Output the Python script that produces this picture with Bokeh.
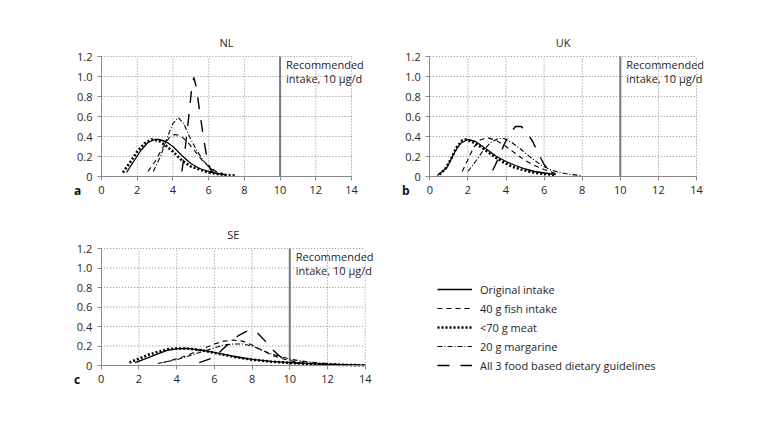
from bokeh.plotting import figure
from bokeh.models import Range1d, FixedTicker, Label, Legend, LegendItem, LinearAxis
from bokeh.layouts import column, row
from bokeh.embed import file_html
from bokeh.resources import INLINE

# ---------------- data ----------------
x_ticks = [0, 2, 4, 6, 8, 10, 12, 14]
y_ticks = [0, 0.2, 0.4, 0.6, 0.8, 1.0, 1.2]
y_tick_labels = ["0", "0.2", "0.4", "0.6", "0.8", "1.0", "1.2"]
recommended = 10
series_names = ["Original intake", "40 g fish intake", "<70 g meat",
                "20 g margarine", "All 3 food based dietary guidelines"]

nl_orig_x = [1.4, 1.8, 2.2, 2.6, 3.0, 3.2, 3.6, 4.0, 4.5, 5.0, 5.5, 6.0, 6.5, 7.0]
nl_orig_y = [0.04, 0.15, 0.26, 0.34, 0.37, 0.37, 0.35, 0.30, 0.21, 0.13, 0.08, 0.05, 0.03, 0.015]
nl_fish_x = [2.6, 3.0, 3.4, 3.8, 4.1, 4.4, 4.8, 5.2, 5.6, 6.0, 6.4, 6.8]
nl_fish_y = [0.05, 0.15, 0.28, 0.39, 0.42, 0.41, 0.35, 0.26, 0.17, 0.10, 0.05, 0.03]
nl_meat_x = [1.2, 1.6, 2.0, 2.4, 2.8, 3.2, 3.6, 4.0, 4.5, 5.0, 5.5, 6.0, 6.5, 7.0, 7.5]
nl_meat_y = [0.04, 0.14, 0.25, 0.33, 0.37, 0.36, 0.31, 0.25, 0.16, 0.10, 0.07, 0.04, 0.025, 0.015, 0.01]
nl_marg_x = [2.9, 3.3, 3.7, 4.0, 4.3, 4.6, 4.9, 5.3, 5.7, 6.1, 6.5]
nl_marg_y = [0.05, 0.20, 0.40, 0.53, 0.59, 0.53, 0.41, 0.27, 0.16, 0.08, 0.04]
nl_all_x = [4.5, 4.7, 4.9, 5.05, 5.17, 5.3, 5.5, 5.7, 5.9, 6.1, 6.3]
nl_all_y = [0.05, 0.30, 0.62, 0.88, 0.99, 0.90, 0.65, 0.40, 0.19, 0.07, 0.03]

uk_orig_x = [0.4, 0.9, 1.3, 1.6, 2.0, 2.4, 3.0, 3.5, 4.0, 4.5, 5.0, 5.5, 6.0, 6.6]
uk_orig_y = [0.01, 0.09, 0.24, 0.33, 0.37, 0.35, 0.27, 0.20, 0.15, 0.11, 0.075, 0.05, 0.035, 0.02]
uk_fish_x = [1.7, 2.0, 2.3, 2.6, 3.0, 3.5, 4.0, 4.5, 5.0, 5.5, 6.0, 6.6]
uk_fish_y = [0.05, 0.17, 0.29, 0.36, 0.39, 0.36, 0.30, 0.23, 0.16, 0.11, 0.07, 0.03]
uk_meat_x = [0.5, 0.8, 1.1, 1.4, 1.7, 1.9, 2.3, 2.8, 3.3, 3.8, 4.3, 4.8, 5.3, 5.8, 6.3, 6.6]
uk_meat_y = [0.02, 0.07, 0.17, 0.29, 0.36, 0.37, 0.34, 0.28, 0.21, 0.15, 0.10, 0.07, 0.045, 0.03, 0.02, 0.015]
uk_marg_x = [2.0, 2.4, 2.8, 3.2, 3.6, 3.9, 4.3, 4.8, 5.3, 5.8, 6.3, 6.8, 7.4, 8.0]
uk_marg_y = [0.05, 0.15, 0.26, 0.34, 0.38, 0.38, 0.34, 0.27, 0.19, 0.12, 0.07, 0.04, 0.02, 0.01]
uk_all_x = [3.3, 3.6, 3.9, 4.2, 4.5, 4.8, 5.1, 5.4, 5.7, 6.0, 6.3, 6.6]
uk_all_y = [0.06, 0.18, 0.32, 0.43, 0.50, 0.50, 0.44, 0.35, 0.23, 0.12, 0.05, 0.02]

se_orig_x = [1.8, 2.5, 3.0, 3.5, 4.0, 4.5, 5.0, 5.5, 6.0, 6.5, 7.0, 7.5, 8.0, 9.0, 10.0, 11.0, 12.0, 13.0, 14.0]
se_orig_y = [0.03, 0.08, 0.12, 0.155, 0.17, 0.175, 0.165, 0.15, 0.135, 0.115, 0.095, 0.077, 0.062, 0.042, 0.03, 0.02, 0.012, 0.007, 0.003]
se_fish_x = [3.3, 4.0, 4.5, 5.0, 5.5, 6.0, 6.5, 7.0, 7.5, 8.0, 8.5, 9.0, 9.5, 10.0, 11.0, 12.0, 13.0, 14.0]
se_fish_y = [0.03, 0.07, 0.10, 0.14, 0.18, 0.22, 0.25, 0.26, 0.25, 0.21, 0.16, 0.11, 0.075, 0.05, 0.025, 0.013, 0.007, 0.003]
se_meat_x = [1.5, 2.0, 2.5, 3.0, 3.5, 4.0, 4.5, 5.0, 5.5, 6.0, 6.5, 7.0, 7.5, 8.0, 9.0, 10.0, 11.0, 12.0, 13.0, 14.0]
se_meat_y = [0.03, 0.07, 0.11, 0.14, 0.165, 0.175, 0.175, 0.165, 0.15, 0.13, 0.11, 0.09, 0.075, 0.06, 0.04, 0.027, 0.017, 0.01, 0.005, 0.002]
se_marg_x = [3.0, 4.0, 5.0, 6.0, 6.5, 7.0, 7.5, 8.0, 8.5, 9.0, 10.0, 11.0, 12.0, 13.0, 14.0]
se_marg_y = [0.02, 0.06, 0.12, 0.18, 0.21, 0.22, 0.22, 0.20, 0.16, 0.12, 0.065, 0.035, 0.02, 0.01, 0.004]
se_all_x = [5.2, 5.8, 6.3, 6.8, 7.3, 7.7, 8.0, 8.3, 8.7, 9.1, 9.5, 10.0, 10.5]
se_all_y = [0.03, 0.07, 0.14, 0.23, 0.31, 0.35, 0.36, 0.33, 0.25, 0.16, 0.09, 0.04, 0.02]

# ---------------- styles ----------------
FONT = "Open Sans"
TXT = "#262626"
AX = "#8a8a8a"
GRID = "#8c8c8c"
styles = [
    dict(line_width=1.3, line_dash="solid"),
    dict(line_width=1.1, line_dash="5 4"),
    dict(line_width=2.6, line_dash="2 2"),
    dict(line_width=1.1, line_dash="5 2 1 2"),
    dict(line_width=1.4, line_dash="12 11"),
]


def panel(code, letter, curves, fig_w, fig_h, x0_px, kx, y0_px, ky, legend_loc=None):
    """x0_px / y0_px: pixel position of the data origin inside the figure
    (from left / from top); kx / ky: pixels per data unit."""
    xr = Range1d(-x0_px / kx, (fig_w - x0_px) / kx)
    yr = Range1d(-(fig_h - y0_px) / ky, y0_px / ky)
    p = figure(output_backend="svg", toolbar_location=None,
               frame_width=fig_w, frame_height=fig_h,
               x_range=xr, y_range=yr, x_axis_type=None, y_axis_type=None,
               min_border=0, min_border_left=0, min_border_right=0,
               min_border_top=0, min_border_bottom=0,
               outline_line_color=None)

    x0, x1 = x_ticks[0], x_ticks[-1]
    y0, y1 = y_ticks[0], y_ticks[-1]

    # dotted grid lines
    gx = x_ticks[1:]
    gy = y_ticks[1:]
    p.segment(x0=gx, y0=[y0] * len(gx), x1=gx, y1=[y1] * len(gx),
              line_color=GRID, line_dash="1 2", line_width=1)
    p.segment(x0=[x0] * len(gy), y0=gy, x1=[x1] * len(gy), y1=gy,
              line_color=GRID, line_dash="1 2", line_width=1)

    # axes through the origin
    xa = LinearAxis(fixed_location=y0, bounds=(x0, x1), ticker=FixedTicker(ticks=x_ticks))
    ya = LinearAxis(fixed_location=x0, bounds=(y0, y1), ticker=FixedTicker(ticks=y_ticks),
                    major_label_overrides={t: s for t, s in zip(y_ticks, y_tick_labels)})
    for ax in (xa, ya):
        ax.axis_line_color = AX
        ax.major_tick_line_color = AX
        ax.major_tick_out = 4
        ax.major_tick_in = 0
        ax.minor_tick_out = 0
        ax.minor_tick_in = 0
        ax.major_label_standoff = 5
        ax.major_label_text_font = FONT
        ax.major_label_text_font_size = "11px"
        ax.major_label_text_color = TXT
    p.add_layout(xa, "below")
    p.add_layout(ya, "left")

    # recommended intake line
    p.segment(x0=[recommended], y0=[y0], x1=[recommended], y1=[y1],
              line_color="#7a7a7a", line_width=2)
    p.add_layout(Label(x=recommended, y=y1, x_offset=6, y_offset=0,
                       text="Recommended\nintake, 10 μg/d",
                       text_font=FONT, text_font_size="11px", text_color=TXT,
                       text_line_height=0.95,
                       text_align="left", text_baseline="top"))
    p.add_layout(Label(x=(x0 + x1) / 2, y=y1, y_offset=14,
                       text=code, text_font=FONT, text_font_size="11px",
                       text_color=TXT, text_align="center", text_baseline="middle"))
    p.add_layout(Label(x=x0, y=y0, x_offset=-24, y_offset=-14,
                       text=letter, text_font=FONT, text_font_size="12px",
                       text_font_style="bold", text_color="#111111",
                       text_align="center", text_baseline="middle"))

    items = []
    for (xs, ys), st, name in zip(curves, styles, series_names):
        r = p.line(xs, ys, line_color="black", **st)
        items.append(LegendItem(label=name, renderers=[r]))
    if legend_loc is not None:
        lg = Legend(items=items, location=legend_loc, glyph_width=35,
                    glyph_height=18, label_height=18, spacing=1, padding=0,
                    margin=0, label_standoff=8, border_line_alpha=0,
                    background_fill_alpha=0, label_text_font=FONT,
                    label_text_font_size="11px", label_text_color=TXT)
        p.add_layout(lg)
    return p


p_nl = panel("NL", "a",
             [(nl_orig_x, nl_orig_y), (nl_fish_x, nl_fish_y), (nl_meat_x, nl_meat_y),
              (nl_marg_x, nl_marg_y), (nl_all_x, nl_all_y)],
             370, 204, 101, 250 / 14, 176, 100)
p_uk = panel("UK", "b",
             [(uk_orig_x, uk_orig_y), (uk_fish_x, uk_fish_y), (uk_meat_x, uk_meat_y),
              (uk_marg_x, uk_marg_y), (uk_all_x, uk_all_y)],
             346, 204, 59.3, 266.7 / 14, 176, 100)
p_se = panel("SE", "c",
             [(se_orig_x, se_orig_y), (se_fish_x, se_fish_y), (se_meat_x, se_meat_y),
              (se_marg_x, se_marg_y), (se_all_x, se_all_y)],
             680, 206, 100.7, 264 / 14, 161, 117 / 1.2, legend_loc=(437, 36))

layout = column(row(p_nl, p_uk), p_se)
open("out.html", "w").write(file_html(layout, INLINE))
